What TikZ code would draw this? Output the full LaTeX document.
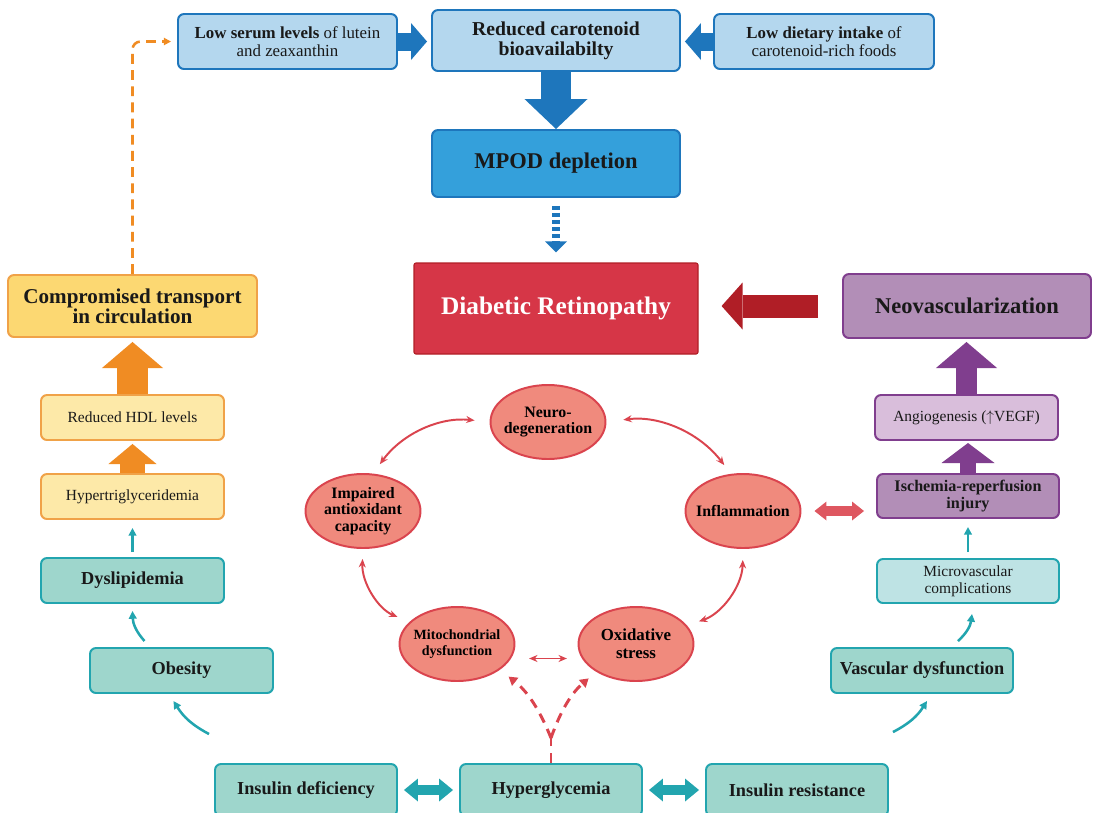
\documentclass[tikz,border=0pt]{standalone}
\usepackage{fontspec}
\setmainfont{Liberation Serif}
\usepackage{tikz}
\usetikzlibrary{arrows.meta,shapes.geometric,calc}
\definecolor{blue0}{RGB}{180,215,238}
\definecolor{blue1}{RGB}{52,160,219}
\definecolor{blue2}{RGB}{30,118,188}
\definecolor{red0}{RGB}{214,54,71}
\definecolor{red1}{RGB}{176,30,38}
\definecolor{red2}{RGB}{240,138,125}
\definecolor{red3}{RGB}{218,68,78}
\definecolor{purple0}{RGB}{178,142,183}
\definecolor{purple1}{RGB}{217,190,219}
\definecolor{purple2}{RGB}{128,62,142}
\definecolor{teal0}{RGB}{158,214,204}
\definecolor{teal1}{RGB}{190,227,228}
\definecolor{teal2}{RGB}{34,165,175}
\definecolor{yellow0}{RGB}{252,216,114}
\definecolor{yellow1}{RGB}{253,233,168}
\definecolor{orange0}{RGB}{240,140,35}
\definecolor{orange1}{RGB}{240,162,72}
\tikzstyle{box}=[rectangle,rounded corners=0.15cm,line width=1.4pt,inner sep=2pt,align=center,text=black!90]
\tikzstyle{light blue box}=[box,fill=blue0,draw=blue2]
\tikzstyle{mpod box}=[box,fill=blue1,draw=blue2]
\tikzstyle{dr box}=[box,rounded corners=0.05cm,line width=0.8pt,fill=red0,draw=red1,text=white]
\tikzstyle{purple box}=[box,fill=purple0,draw=purple2]
\tikzstyle{light purple box}=[box,fill=purple1,draw=purple2]
\tikzstyle{teal box}=[box,fill=teal0,draw=teal2]
\tikzstyle{light teal box}=[box,fill=teal1,draw=teal2]
\tikzstyle{yellow box}=[box,fill=yellow0,draw=orange1]
\tikzstyle{light yellow box}=[box,fill=yellow1,draw=orange1]
\tikzstyle{cycle node}=[ellipse,fill=red2,draw=red3,line width=1.4pt,inner xsep=-4.5pt,inner ysep=0pt,minimum width=115*0.025cm,minimum height=74*0.025cm,align=center,font=\fontsize{11.3}{11.8}\selectfont\bfseries]
\tikzstyle{cycle edge}=[{Stealth[length=6pt,width=5pt]}-{Stealth[length=6pt,width=5pt]},line width=1.4pt,red3]
\tikzstyle{teal edge}=[-{Triangle[length=5.5pt,width=5.5pt]},line width=1.8pt,teal2]
\tikzstyle{dash edge}=[-{Triangle[length=6pt,width=7pt]},line width=2.1pt,red3,dash pattern=on 7pt off 5pt]
\tikzset{wh/.style 2 args={minimum width=#1*0.025cm,minimum height=#2*0.025cm},
  block/.style n args={3}{line width=#1,-{Triangle[width=#2,length=#3,line width=0pt]}},
  dblock/.style n args={3}{line width=#1,{Triangle[width=#2,length=#3,line width=0pt]}-{Triangle[width=#2,length=#3,line width=0pt]}}}

\begin{document}
\begin{tikzpicture}[x=0.025cm,y=-0.025cm]
\useasboundingbox (0,0) rectangle (1094,812);
\def\small{\fontsize{11}{12}\selectfont}
\def\mid{\fontsize{13}{14}\selectfont\bfseries}

	% Carotenoids
    \node[light blue box, wh={219}{55}, font=\fontsize{12}{12.5}\selectfont] (serum) at (287.5,41.5) {\textbf{Low serum levels} of lutein\\and zeaxanthin};
    \node[light blue box, wh={248}{61}, font=\fontsize{14}{14}\selectfont\bfseries] (bioav) at (556,40.5) {Reduced carotenoid\\bioavailabilty};
    \node[light blue box, wh={220}{55}, font=\fontsize{12}{12.5}\selectfont] (intake) at (824,41.5) {\textbf{Low dietary intake} of\\carotenoid-rich foods};
    \node[mpod box, wh={248}{67}, font=\fontsize{16}{16}\selectfont\bfseries] (mpod) at (556,163.5) {MPOD depletion};
    \node[dr box, wh={284}{91}, font=\fontsize{18}{18}\selectfont\bfseries] (dr) at (556,308.5) {Diabetic Retinopathy};

	% Right column
    \node[purple box, wh={248}{64}, font=\fontsize{16}{16}\selectfont\bfseries] (neo) at (967,306) {Neovascularization};
    \node[light purple box, wh={183}{45}, font=\small] (angio) at (966.5,417.5) {Angiogenesis ($\uparrow$VEGF)};
    \node[purple box, wh={182}{44}, font=\fontsize{11.5}{11.5}\selectfont\bfseries] (ischemia) at (968,496) {Ischemia-reperfusion\\injury};
    \node[light teal box, wh={182}{44}, font=\small] (micro) at (968,581) {Microvascular\\complications};
    \node[teal box, wh={182}{45}, font=\mid] (vasc) at (922,670.5) {Vascular dysfunction};

	% Bottom row
    \node[teal box, wh={182}{52}, font=\mid] (insdef) at (306,790) {Insulin deficiency};
    \node[teal box, wh={182}{52}, font=\mid] (hyper) at (551,790) {Hyperglycemia};
    \node[teal box, wh={182}{52}, font=\mid] (insres) at (797,790) {Insulin resistance};

	% Left column
    \node[teal box, wh={183}{45}, font=\mid] (obesity) at (181.5,670.5) {Obesity};
    \node[teal box, wh={183}{45}, font=\mid] (dyslip) at (132.5,580.5) {Dyslipidemia};
    \node[light yellow box, wh={183}{45}, font=\small] (trig) at (132.5,496.5) {Hypertriglyceridemia};
    \node[light yellow box, wh={183}{45}, font=\small] (hdl) at (132.5,417.5) {Reduced HDL levels};
    \node[yellow box, wh={249}{62}, font=\fontsize{15}{14.5}\selectfont\bfseries] (transport) at (132.5,306) {Compromised transport\\in circulation};

	% Vicious cycle
    \node[cycle node] (neuro) at (548,422) {Neuro-\\degeneration};
    \node[cycle node] (impaired) at (363,511) {Impaired\\antioxidant\\capacity};
    \node[cycle node] (inflam) at (743,511) {Inflammation};
    \node[cycle node, font=\fontsize{10}{11}\selectfont\bfseries] (mito) at (457,644) {Mitochondrial\\dysfunction};
    \node[cycle node, font=\fontsize{12}{12.5}\selectfont\bfseries] (oxid) at (636,644) {Oxidative\\stress};

	% Block arrows
    \draw[block={0.45cm}{0.925cm}{0.4cm}, blue2, shorten >=0.1cm] (serum.east) -- (serum.east -| bioav.west);
    \draw[block={0.45cm}{0.925cm}{0.4cm}, blue2, shorten >=0.1cm] (intake.west) -- (intake.west -| bioav.east);
    \draw[block={0.75cm}{1.575cm}{0.75cm}, blue2] (bioav.south) -- (mpod.north);
    \draw[line width=0.2cm, blue2, dash pattern=on 0.1cm off 0.075cm, -{Triangle[length=0.275cm,width=0.55cm,line width=0pt]}, shorten <=0.2cm, shorten >=0.25cm] (mpod.south) -- (dr.north);
    \draw[block={0.575cm}{1.175cm}{0.525cm}, red1, shorten <=0.6cm, shorten >=0.575cm] (neo.west) -- (neo.west -| dr.east);
    \draw[block={0.525cm}{1.525cm}{0.65cm}, purple2, shorten >=0.075cm] (angio.north) -- (angio.north |- neo.south);
    \draw[block={0.4cm}{1.325cm}{0.5cm}, purple2, shorten >=0.05cm] (ischemia.north) -- (ischemia.north |- angio.south);
    \draw[block={0.775cm}{1.525cm}{0.65cm}, orange0, shorten >=0.1cm] (hdl.north) -- (transport.south);
    \draw[block={0.6cm}{1.2cm}{0.5cm}, orange0, shorten >=0.075cm] (trig.north) -- (hdl.south);
    \draw[dblock={0.25cm}{0.475cm}{0.3cm}, red3!90, shorten <=0.325cm, shorten >=0.3cm] (inflam.east) -- (inflam.east -| ischemia.west);
    \draw[dblock={0.25cm}{0.575cm}{0.35cm}, teal2, shorten <=0.15cm, shorten >=0.15cm] (insdef) -- (hyper);
    \draw[dblock={0.25cm}{0.575cm}{0.35cm}, teal2, shorten <=0.15cm, shorten >=0.15cm] (hyper) -- (insres);

	% Thin arrows
    \draw[teal edge, shorten <=0.125cm, shorten >=0.2cm] (dyslip.north) -- (trig.south);
    \draw[teal edge, shorten <=0.15cm, shorten >=0.2cm] (micro.north) -- (ischemia.south);
    \draw[teal edge] ([shift={(-37,-6)}]obesity.north) to[bend left=20] ([shift={(0,7)}]dyslip.south);
    \draw[teal edge] ([shift={(-5,-29)}]insdef.north west) to[bend left=15] ([shift={(-8,7)}]obesity.south);
    \draw[teal edge] ([shift={(4,-31)}]insres.north east) to[bend right=15] ([shift={(5,7)}]vasc.south);
    \draw[teal edge] ([shift={(36,-6)}]vasc.north) to[bend right=20] ([shift={(4,10)}]micro.south);
    \draw[-{Triangle[length=5pt,width=5pt]}, line width=1.8pt, orange0, dash pattern=on 7pt off 4.5pt, rounded corners=0.2cm, shorten >=0.15cm] (transport.north) |- (serum.west);

	% Cycle edges
    \draw[cycle edge, shorten <=0.29cm, shorten >=0.375cm] (impaired.75) to[bend left=30] (neuro.west);
    \draw[cycle edge, shorten <=0.425cm, shorten >=0.275cm] (neuro.east) to[bend left=30] (inflam.108);
    \draw[cycle edge, shorten <=0.25cm, shorten >=0.325cm] (impaired.south) to[bend right=35] (mito.155);
    \draw[cycle edge, shorten <=0.275cm, shorten >=0.315cm] (inflam.south) to[bend left=35] (oxid.20);
    \draw[cycle edge, shorten <=0.45cm, shorten >=0.375cm] (mito.-15) -- (oxid.195);

	% Hyperglycemia
    \coordinate (fork) at (551,738);
    \draw[dash edge, -] (hyper.north) -- (fork);
    \draw[dash edge, shorten >=0.275cm] (fork) to[bend right=15] (mito.-31);
    \draw[dash edge, shorten >=0.25cm] (fork) to[bend left=15] (oxid.215);

\end{tikzpicture}
\end{document}
